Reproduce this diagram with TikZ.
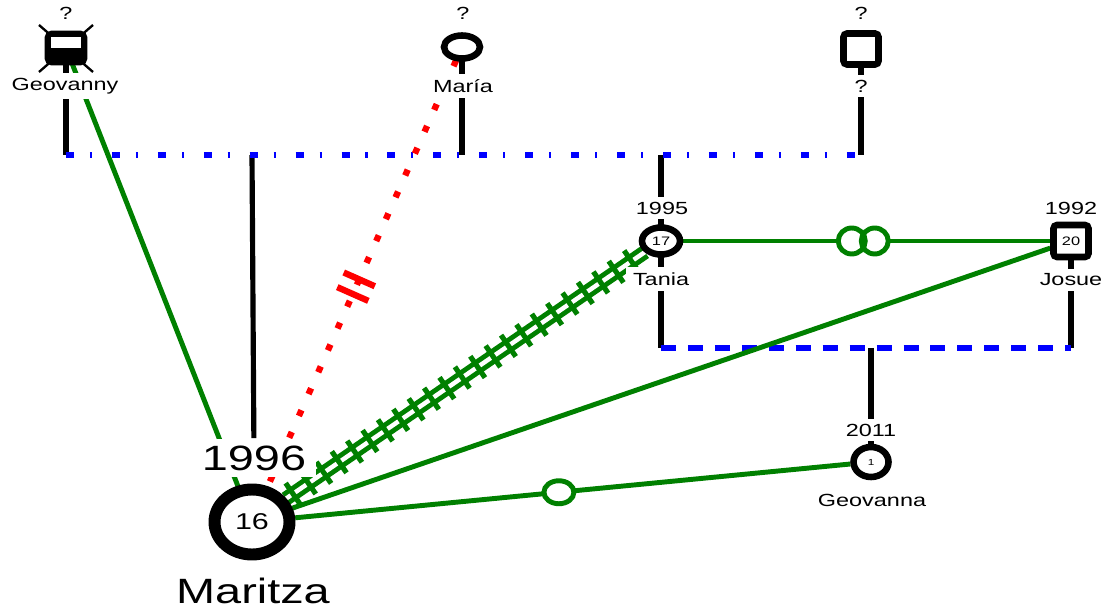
\documentclass[tikz,border=0pt]{standalone}
\usepackage{fontspec}
\setmainfont{Liberation Sans}
\usetikzlibrary{shapes.geometric,backgrounds,decorations.markings,calc}
\definecolor{kin}{HTML}{008000}

\tikzset{
  every node/.style={yscale=.75, transform shape},
  person/.style={draw, line width=2.8pt, fill=white, inner sep=0pt, font=\fontsize{7}{8}\selectfont},
  female/.style={person, ellipse},
  male/.style={person, rectangle, rounded corners=1.5pt},
  lbl/.style={fill=white, inner sep=3pt, font=\fontsize{10}{12}\selectfont},
  biglbl/.style={fill=white, inner sep=4pt, font=\fontsize{20}{24}\selectfont},
  descent/.style={line width=2.2pt},
  union/.style={blue, line width=2.3pt, dash pattern=on 3.4pt off 6.8pt on 0.9pt off 8.5pt},
  couple/.style={blue, line width=2.4pt, dash pattern=on 6.4pt off 5.1pt},
  tie/.style={kin, line width=2.1pt},
  broken/.style={red, line width=2.7pt, dash pattern=on 2.7pt off 7.5pt}
}

\begin{document}
\begin{tikzpicture}[x=0.015cm, y=-0.015cm]
  \useasboundingbox (0,0) rectangle (1113,611);

  % grandparents
  \node[male, fill=black, minimum width=0.54cm, minimum height=0.56cm] (geovanny) at (66,48) {};
  \fill[white] (51,37) rectangle (81,48);
  \node[lbl] (geovanny-q) at (66,13) {?};
  \node[lbl] (geovanny-n) at (65,86) {Geovanny};

  \node[female, minimum width=0.54cm, minimum height=0.46cm] (maria) at (462,47) {};
  \node[lbl] (maria-q) at (463,13) {?};
  \node[lbl] (maria-n) at (463,86) {María};

  \node[male, minimum width=0.525cm, minimum height=0.62cm] (unknown) at (861,49) {};
  \node[lbl] (unknown-q) at (861,13) {?};
  \node[lbl] (unknown-n) at (861,86) {?};

  % parents
  \node[lbl] (tania-y) at (662,208) {1995};
  \node[female, minimum width=0.57cm, minimum height=0.54cm] (tania) at (661,241) {17};
  \node[lbl] (tania-n) at (661,279) {Tania};

  \node[lbl] (josue-y) at (1071,208) {1992};
  \node[male, minimum width=0.525cm, minimum height=0.64cm] (josue) at (1071,241) {20};
  \node[lbl] (josue-n) at (1071,280) {Josue};

  \node[lbl] (geovanna-y) at (871,430) {2011};
  \node[female, minimum width=0.525cm, minimum height=0.6cm, font=\fontsize{5}{6}\selectfont] (geovanna) at (871,462) {1};
  \node[lbl] (geovanna-n) at (872,500) {Geovanna};

  % index person
  \node[biglbl] (maritza-y) at (254,458) {1996};
  \node[female, line width=5.1pt, minimum width=1.125cm, minimum height=1.3cm, font=\fontsize{13}{15}\selectfont] (maritza) at (252,522) {16};
  \node[biglbl, fill=none] (maritza-n) at (253,591) {Maritza};

  \begin{scope}[on background layer]
    \draw[line width=1pt] (39,25) -- (93,72) (93,25) -- (39,72);
    \coordinate (topline) at (0,155);
    \coordinate (botline) at (0,348);

    % family lines
    \draw[descent] (geovanny) -- (geovanny |- topline);
    \draw[descent] (maria) -- (maria |- topline);
    \draw[descent] (unknown) -- (unknown |- topline);
    \draw[descent] (maritza |- topline) -- (maritza-y);
    \draw[descent] (tania |- topline) -- (tania);
    \draw[descent] (tania) -- (tania |- botline);
    \draw[descent] (josue) -- (josue |- botline);
    \draw[descent] (geovanna |- botline) -- (geovanna);
    \draw[union] (geovanny |- topline) -- (unknown |- topline);
    \draw[couple] (tania |- botline) -- (josue |- botline);

    % relations
    \draw[tie] (geovanny) -- (maritza);
    \draw[tie] (maritza) -- (josue);
    \draw[tie] (maritza) -- coordinate[pos=.475] (mg) (geovanna);
    \draw[tie, fill=white] (mg) ellipse (15 and 11.5);
    \draw[tie] (tania) -- coordinate[midway] (tj) (josue);
    \foreach \dx in {-15,8}
      \fill[white] ($(tj)+(\dx,0)$) ellipse (13.5 and 13);
    \foreach \dx in {-15,8}
      \draw[tie] ($(tj)+(\dx,0)$) ellipse (13.5 and 13);
    \draw[kin, line width=2.1pt, double=white, double distance=1.9pt] (maritza) -- (tania);
    \path[decorate, decoration={markings,
        mark=between positions 0.02 and 1 step 0.28cm with {\draw[kin, line width=2.2pt] (0,-13) -- (0,13);}}]
      (maritza) -- (tania);
    \draw[broken, postaction={decorate}, decoration={markings,
        mark=at position .53 with {\draw[red, solid, line width=2.7pt] (-8,-17) -- (-8,17) (8,-17) -- (8,17);}}]
      (maria) -- (maritza);
  \end{scope}
\end{tikzpicture}
\end{document}
